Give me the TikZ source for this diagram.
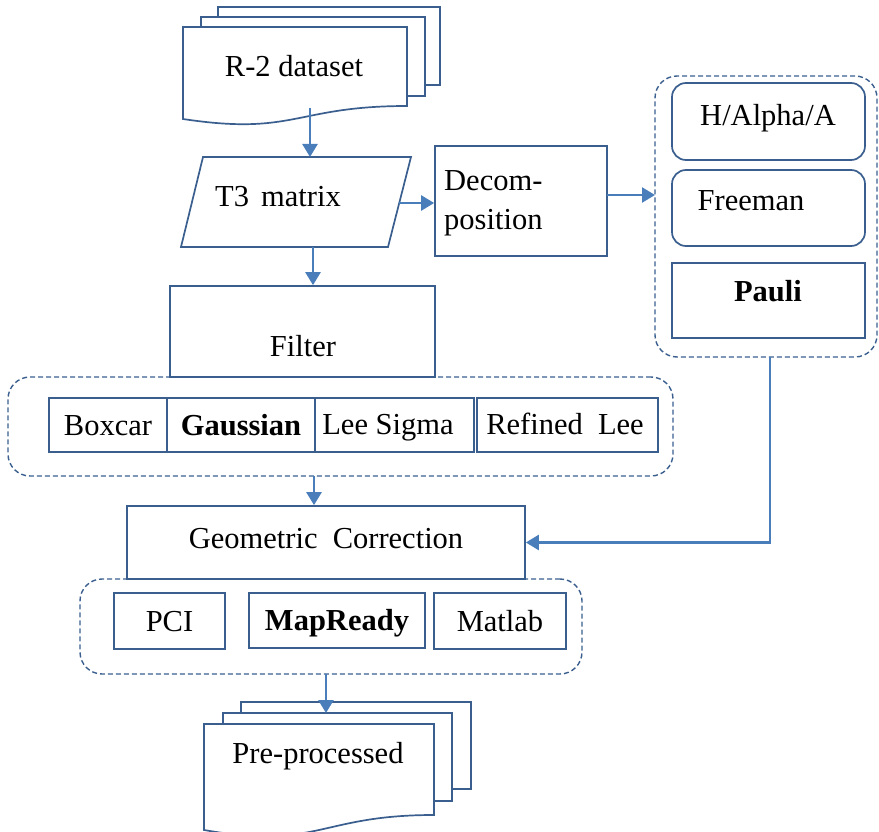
\documentclass[tikz,border=0pt]{standalone}
\usepackage{fontspec}
\setmainfont{Liberation Serif}
\usetikzlibrary{arrows.meta,calc}
\definecolor{bord}{HTML}{3A5F8F}
\definecolor{arr}{HTML}{4A7EBB}
\begin{document}
\begin{tikzpicture}[x=1pt,y=-1pt,
  font=\fontsize{30.5}{38}\selectfont,
  box/.style={draw=bord, line width=1.7pt, fill=white, inner sep=0pt, text height=20pt, text depth=0pt},
  rbox/.style={box, rounded corners=14pt},
  grp/.style={draw=bord, line width=1.4pt, dash pattern=on 5pt off 3pt, rounded corners=22pt, inner sep=0pt},
  arrow/.style={draw=arr, line width=2.5pt, -{Triangle[length=13pt,width=15pt]}},
  lbl/.style={inner sep=0pt, anchor=center, text height=20pt, text depth=0pt}]
\useasboundingbox (0,0) rectangle (879,832);

% R-2 dataset (multidocument)
\draw[box] (218,7) rectangle (440,85);
\draw[box] (201,17) rectangle (425,96);
\draw[box] (183,27) -- (407,27) -- (407,106) .. controls (295,106) and (295,136) .. (183,119) -- cycle;
\node[lbl] (r2) at (294,67) {R-2 dataset};
\coordinate (r2out) at (310,108);

% T3 matrix
\draw[box] (203,157) -- (411,157) -- (388,247) -- (181,247) -- cycle;
\node[lbl] (t3) at (278,197) {T3\hspace{0.4em}matrix};
\coordinate (t3top) at (310,157);
\coordinate (t3bot) at (313,247);
\coordinate (t3r) at (399,203);

% Decomposition
\node[box, minimum width=172pt, minimum height=110pt] (decomp) at (521,201) {};
\node[inner sep=0pt, anchor=west, align=left, font=\fontsize{30.5}{39}\selectfont] (decomptxt) at (444,203) {Decom-\\position};
\coordinate (decout) at (607,195);

% Right group
\node[grp, minimum width=222pt, minimum height=281pt] (rgroup) at (766,216.5) {};
\coordinate (rgin) at (655,195);
\coordinate (rgout) at (770,357);
\node[rbox, minimum width=193pt, minimum height=77pt] (halpha) at (768.5,121.5) {};
\node[lbl] (halphatxt) at (768,116) {H/Alpha/A};
\node[rbox, minimum width=193pt, minimum height=76pt] (freeman) at (768.5,208) {};
\node[lbl] (freemantxt) at (751,201) {Freeman};
\node[box, minimum width=193pt, minimum height=75pt] (pauli) at (768.5,300.5) {};
\node[lbl] (paulitxt) at (768,291) {\bfseries Pauli};

% Filter group
\node[grp, minimum width=665pt, minimum height=99pt] (fgroup) at (340.5,426.5) {};
\node[box, minimum width=265pt, minimum height=91pt] (filter) at (302.5,331.5) {};
\node[lbl] (filtertxt) at (303,346) {Filter};
\node[box, minimum width=118pt, minimum height=54pt] (boxcar) at (108,425) {Boxcar};
\node[box, minimum width=148pt, minimum height=54pt] (gauss) at (241,425) {\bfseries Gaussian};
\node[box, minimum width=159pt, minimum height=54pt] (leesig) at (394.5,425) {};
\node[lbl] (leesigtxt) at (388,424) {Lee\ Sigma};
\node[box, minimum width=181pt, minimum height=54pt] (refined) at (567.5,425) {};
\node[lbl] (refinedtxt) at (565,424) {Refined\ \ Lee};
\coordinate (fgout) at (314,476);

% Geometric correction group
\node[grp, minimum width=502pt, minimum height=95pt] (ggroup) at (331,626.5) {};
\node[box, minimum width=398pt, minimum height=73pt] (geo) at (326,542.5) {};
\node[lbl] (geotxt) at (326,538) {Geometric\ \ Correction};
\node[box, minimum width=111pt, minimum height=56pt] (pci) at (169.5,621) {PCI};
\node[box, minimum width=176pt, minimum height=55pt] (mapready) at (337,620.5) {\bfseries MapReady};
\node[box, minimum width=132pt, minimum height=56pt] (matlab) at (500,621) {Matlab};
\coordinate (ggout) at (326,674);

% Pre-processed (multidocument)
\draw[box] (241,702) rectangle (471,789);
\draw[box] (223,713) rectangle (452,801);
\draw[box] (204,724) -- (434,724) -- (434,815) .. controls (319,815) and (319,850) .. (204,830) -- cycle;
\node[lbl] (pretxt) at (318,753) {Pre-processed};
\coordinate (prein) at (326,713);

% Connectors
\draw[arrow] (r2out) -- (t3top);
\draw[arrow] (t3r) -- (t3r -| decomp.west);
\draw[arrow] (decout) -- (rgin);
\draw[arrow] (t3bot) -- (t3bot |- filter.north);
\draw[arrow] (fgout) -- (fgout |- geo.north);
\draw[arrow] (rgout) |- (geo.east);
\draw[arrow] (ggout) -- (prein);
\end{tikzpicture}
\end{document}
